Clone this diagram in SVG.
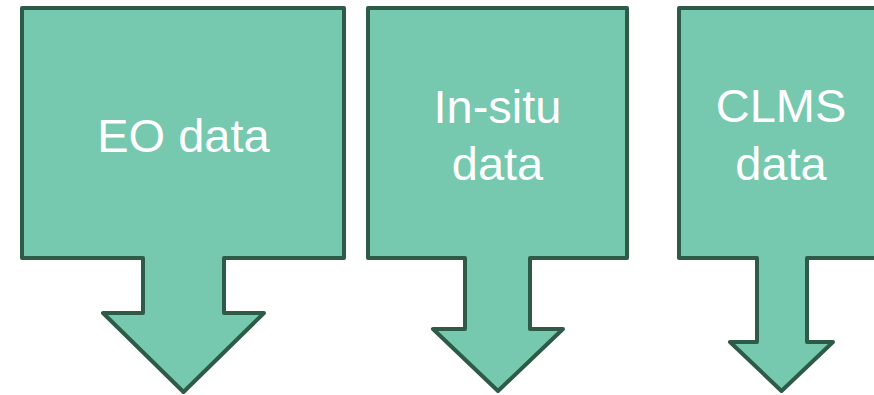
<svg xmlns="http://www.w3.org/2000/svg" width="874" height="395" viewBox="0 0 874 395">
<style>
.s{fill:#76C8AE;stroke:#2E5A48;stroke-width:4;stroke-linejoin:round}
.t{fill:#FFFFFF;font-family:"Liberation Sans",Arial,sans-serif;font-size:47px;text-anchor:middle}
</style>
<rect width="874" height="395" fill="#FFFFFF"/>
<g id="eo">
<path class="s" d="M22,8 H344 V258 H224 V313 H264 L183.5,392 L103,313 H143 V258 H22 Z"/>
<text class="t" x="183.5" y="152">EO data</text>
</g>
<g id="insitu">
<path class="s" d="M368,8 H627 V258 H530 V329 H563 L498,391 L433,329 H465 V258 H368 Z"/>
<text class="t" x="497.5" y="122.5">In-situ</text>
<text class="t" x="497.5" y="180">data</text>
</g>
<g id="clms">
<path class="s" d="M679,8 H885 V258 H807 V342 H833 L781.5,391 L730,342 H757 V258 H679 Z"/>
<text class="t" x="781" y="122">CLMS</text>
<text class="t" x="781" y="180">data</text>
</g>
<g id="connectors"></g>
</svg>
